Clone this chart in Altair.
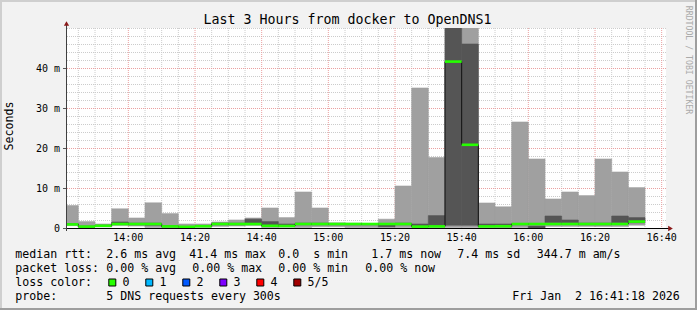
import altair as alt
import pandas as pd

# ---------------- data ----------------
times = ["13:40", "13:45", "13:50", "13:55", "14:00", "14:05", "14:10", "14:15", "14:20",
         "14:25", "14:30", "14:35", "14:40", "14:45", "14:50", "14:55", "15:00", "15:05",
         "15:10", "15:15", "15:20", "15:25", "15:30", "15:35", "15:40", "15:45", "15:50",
         "15:55", "16:00", "16:05", "16:10", "16:15", "16:20", "16:25", "16:30"]
# ms
ping_max = [5.6, 1.6, 1.0, 4.8, 2.5, 6.3, 3.6, 1.0, 1.0, 1.5, 2.0, 2.5, 5.0, 2.6, 9.0, 5.0, 1.3, 1.2,
            1.1, 2.2, 10.5, 35.0, 17.6, 75.0, 75.0, 6.25, 5.3, 26.5, 17.25, 7.25, 9.0, 8.1, 17.25,
            14.0, 10.1]
ping_hi = [1.1, 0.5, 0.7, 1.5, 1.2, 1.2, 0.6, 0.4, 0.6, 1.2, 1.2, 2.2, 1.6, 1.0, 1.2, 1.2, 1.1, 1.1,
           1.1, 1.0, 1.2, 1.0, 3.1, 70.0, 46.0, 1.0, 1.0, 1.1, 0.5, 3.0, 2.0, 1.2, 1.2, 3.0, 2.6]
ping_lo = [0.8, 0.25, 0.45, 0.9, 0.8, 0.7, 0.3, 0.2, 0.35, 0.8, 0.8, 1.0, 0.7, 0.4, 0.8, 0.8, 0.8,
           0.8, 0.8, 0.3, 0.8, 0.5, 0.5, 0.7, 0.7, 0.4, 0.3, 0.8, 0.0, 1.3, 1.3, 0.8, 0.8, 1.3, 1.3]
ping_min = [0.6, 0.1, 0.3, 0.6, 0.5, 0.1, 0.1, 0.1, 0.2, 0.4, 0.5, 0.6, 0.1, 0.2, 0.1, 0.3, 0.3, 0.1,
            0.1, 0.1, 0.1, 0.1, 0.1, 0.1, 0.1, 0.1, 0.1, 0.1, 0.0, 0.4, 0.4, 0.4, 0.4, 0.4, 0.7]
median = [0.9, 0.35, 0.55, 1.0, 1.0, 1.0, 0.4, 0.3, 0.45, 1.0, 1.0, 1.0, 0.55, 0.5, 1.0, 1.0, 1.0, 1.0,
          1.0, 1.0, 1.0, 0.35, 0.4, 41.6, 20.8, 0.4, 0.45, 1.0, 1.0, 1.0, 1.0, 1.0, 1.0, 1.0, 1.6]

x_tick_labels = ["14:00", "14:20", "14:40", "15:00", "15:20", "15:40", "16:00", "16:20", "16:40"]
y_ticks = [0, 10, 20, 30, 40]
y_tick_labels = ["0  ", "10 m", "20 m", "30 m", "40 m"]

loss_labels = ["0", "1", "2", "3", "4", "5/5"]
loss_colors = ["#26ff00", "#00b8ff", "#0059ff", "#7e00ff", "#ff0000", "#a10000"]

title = "Last 3 Hours from docker to OpenDNS1"
legend_line1 = ["median rtt:", "2.6 ms avg", "41.4 ms max", "0.0  s min", "1.7 ms now", "7.4 ms sd", "344.7 m am/s"]
legend_line2 = ["packet loss:", "0.00 % avg", "0.00 % max", "0.00 % min", "0.00 % now"]
probe_label = ["probe:", "5 DNS requests every 300s"]
stamp = "Fri Jan  2 16:41:18 2026"

# ---------------- helpers ----------------
def hm(s):
    h, m = s.split(":")
    return int(h) * 60 + int(m)

NB = "\u00a0"
BIN = 5
df = pd.DataFrame({
    "start": [hm(t) for t in times],
    "pmax": ping_max, "phi": ping_hi, "plo": ping_lo, "pmin": ping_min, "median": median,
})
df["end"] = df["start"] + BIN
step_df = pd.concat([df[["start", "median"]],
                     pd.DataFrame({"start": [df["end"].iloc[-1]], "median": [df["median"].iloc[-1]]})],
                    ignore_index=True)

t0 = hm("13:41") + 18 / 60
t1 = t0 + 180
xs = alt.Scale(domain=[t0, t1], nice=False, zero=False)
ys = alt.Scale(domain=[0, 50], nice=False, zero=True)

MONO = "DejaVu Sans Mono"
W, H = 600, 200
PADL, PADT = 66, 28

one = alt.Data(values=[{"a": 1}])

def px(img_x):
    return img_x - PADL

def py(img_y):
    return img_y - PADT

def txt(s, x, y, size=11.6, color="#000000", align="left", baseline="alphabetic", angle=0):
    kw = dict(text=s.replace(" ", NB), align=align, baseline=baseline, font=MONO,
              fontSize=size, color=color)
    if angle:
        kw["angle"] = angle
    return alt.Chart(one).mark_text(**kw).encode(x=alt.value(x), y=alt.value(y))

# ---------------- grid ----------------
x_major = [hm(t) for t in x_tick_labels]
x_minor = [v for v in range(hm("13:45"), int(t1) + 1, 5) if v not in x_major]
y_major = [10, 20, 30, 40]
y_minor = [v for v in range(2, 51, 2) if v not in y_major]

MINOR = "#cccccc"
MAJOR = "#eba0a0"
grid_minor_v = alt.Chart(pd.DataFrame({"v": x_minor})).mark_rule(
    color=MINOR, strokeDash=[1, 1], strokeWidth=1).encode(
    x=alt.X("v:Q", scale=xs, axis=None))
grid_minor_h = alt.Chart(pd.DataFrame({"v": y_minor})).mark_rule(
    color=MINOR, strokeDash=[1, 1], strokeWidth=1, yOffset=0.5).encode(
    y=alt.Y("v:Q", scale=ys, axis=None))
grid_major_v = alt.Chart(pd.DataFrame({"v": x_major})).mark_rule(
    color=MAJOR, strokeDash=[1, 1], strokeWidth=1).encode(
    x=alt.X("v:Q", scale=xs, axis=None))
grid_major_h = alt.Chart(pd.DataFrame({"v": y_major})).mark_rule(
    color=MAJOR, strokeDash=[1, 1], strokeWidth=1, yOffset=0.5).encode(
    y=alt.Y("v:Q", scale=ys, axis=None))

# ---------------- smoke ----------------
LIGHT = "#a0a0a0"
DARK = "#555555"
smoke_outer = alt.Chart(df).mark_rect(color=LIGHT, stroke=LIGHT, strokeWidth=0.6, clip=True).encode(
    x=alt.X("start:Q", scale=xs, axis=None), x2="end:Q",
    y=alt.Y("pmin:Q", scale=ys, axis=None), y2="pmax:Q")
smoke_inner = alt.Chart(df).mark_rect(color=DARK, stroke=DARK, strokeWidth=0.6, clip=True).encode(
    x=alt.X("start:Q", scale=xs, axis=None), x2="end:Q",
    y=alt.Y("plo:Q", scale=ys, axis=None), y2="phi:Q")
median_step = alt.Chart(step_df).mark_line(interpolate="step-after", color="#101010",
                                           strokeWidth=1, clip=True).encode(
    x=alt.X("start:Q", scale=xs, axis=None), y=alt.Y("median:Q", scale=ys, axis=None))
median_line = alt.Chart(df).mark_rule(color="#26ff00", strokeWidth=2.6, clip=True).encode(
    x=alt.X("start:Q", scale=xs, axis=None), x2="end:Q",
    y=alt.Y("median:Q", scale=ys, axis=None))

# ---------------- axes ----------------
ARROW = "#8b1a1a"
x_axis_line = alt.Chart(one).mark_rule(color="#000000", strokeWidth=1).encode(
    x=alt.value(-3), x2=alt.value(603), y=alt.value(H + 0.5))
x_arrow = alt.Chart(one).mark_point(shape="triangle-right", filled=True, color=ARROW, size=28,
                                    opacity=1).encode(x=alt.value(604.5), y=alt.value(H + 0.5))
y_axis_line = alt.Chart(one).mark_rule(color="#404040", strokeWidth=1).encode(
    x=alt.value(0.5), y=alt.value(-3), y2=alt.value(H + 3))
y_arrow = alt.Chart(one).mark_point(shape="triangle-up", filled=True, color=ARROW, size=28,
                                    opacity=1).encode(x=alt.value(0.5), y=alt.value(-4.5))

x_labels = alt.Chart(pd.DataFrame({"v": x_major, "lab": x_tick_labels})).mark_text(
    font=MONO, fontSize=10, color="#000000", align="center", baseline="alphabetic").encode(
    x=alt.X("v:Q", scale=xs, axis=None), y=alt.value(py(240.7)), text="lab:N")
y_labels = alt.Chart(pd.DataFrame({"v": y_ticks, "lab": [s.replace(" ", NB) for s in y_tick_labels]})).mark_text(
    font=MONO, fontSize=10, color="#000000", align="right", baseline="alphabetic", dy=4).encode(
    x=alt.value(-6), y=alt.Y("v:Q", scale=ys, axis=None), text="lab:N")
y_tickmarks = alt.Chart(pd.DataFrame({"v": y_ticks})).mark_rule(
    color="#555555", strokeWidth=1, yOffset=0.5).encode(
    x=alt.value(-3), x2=alt.value(0), y=alt.Y("v:Q", scale=ys, axis=None))

# ---------------- frame ----------------
FULLW, FULLH = 697, 310
frame = [
    alt.Chart(one).mark_rule(color="#cfcfcf", strokeWidth=2).encode(
        x=alt.value(px(0)), x2=alt.value(px(FULLW)), y=alt.value(py(1))),
    alt.Chart(one).mark_rule(color="#cfcfcf", strokeWidth=2).encode(
        x=alt.value(px(1)), y=alt.value(py(0)), y2=alt.value(py(FULLH))),
    alt.Chart(one).mark_rule(color="#9e9e9e", strokeWidth=2).encode(
        x=alt.value(px(0)), x2=alt.value(px(FULLW)), y=alt.value(py(FULLH - 1))),
    alt.Chart(one).mark_rule(color="#9e9e9e", strokeWidth=2).encode(
        x=alt.value(px(FULLW - 1)), y=alt.value(py(0)), y2=alt.value(py(FULLH))),
]

# ---------------- texts ----------------
texts = []
texts.append(txt(title, px(347.5), py(24), size=13.3, align="center"))
texts.append(txt("Seconds", px(10), py(126), size=11.6, align="center", baseline="middle", angle=270))
texts.append(txt("RRDTOOL / TOBI OETIKER", px(688), py(60), size=8.2, color="#aaaaaa",
                 align="center", baseline="middle", angle=90))

LX = [16, 107, 190, 279, 372, 458, 537.5]
for s, x in zip(legend_line1, LX):
    texts.append(txt(s, px(x - 0.7), py(258)))
LX2 = [16, 107, 193, 279, 366]
for s, x in zip(legend_line2, LX2):
    texts.append(txt(s, px(x - 0.7), py(271.7)))
texts.append(txt("loss color:", px(16 - 0.7), py(286)))
texts.append(txt(probe_label[0], px(16 - 0.7), py(300)))
texts.append(txt(probe_label[1], px(107 - 0.7), py(300)))
texts.append(txt(stamp, px(513 - 0.7), py(300)))

boxes = []
for i, (lab, col) in enumerate(zip(loss_labels, loss_colors)):
    bx = 108.3 + i * 37.0
    boxes.append(alt.Chart(one).mark_rect(fill=col, stroke="#000000", strokeWidth=1).encode(
        x=alt.value(px(bx) + 0.5), x2=alt.value(px(bx) + 7.5),
        y=alt.value(py(278.5) + 0.5), y2=alt.value(py(278.5) + 7.5)))
    texts.append(txt(lab, px(bx + 14.3), py(286)))

chart = alt.layer(
    grid_minor_v, grid_minor_h, grid_major_v, grid_major_h,
    smoke_outer, smoke_inner, median_step, median_line,
    x_axis_line, x_arrow, y_axis_line, y_arrow, y_tickmarks, x_labels, y_labels,
    *frame, *boxes, *texts,
).properties(
    width=W, height=H,
    autosize=alt.AutoSizeParams(type="none"),
    padding={"left": PADL, "top": PADT, "right": FULLW - PADL - W, "bottom": FULLH - PADT - H},
    background="#f2f2f2",
).configure_view(
    fill="#ffffff", stroke="transparent", strokeWidth=0,
)

chart.save("out.html", embed_options={"renderer": "svg", "actions": False})
